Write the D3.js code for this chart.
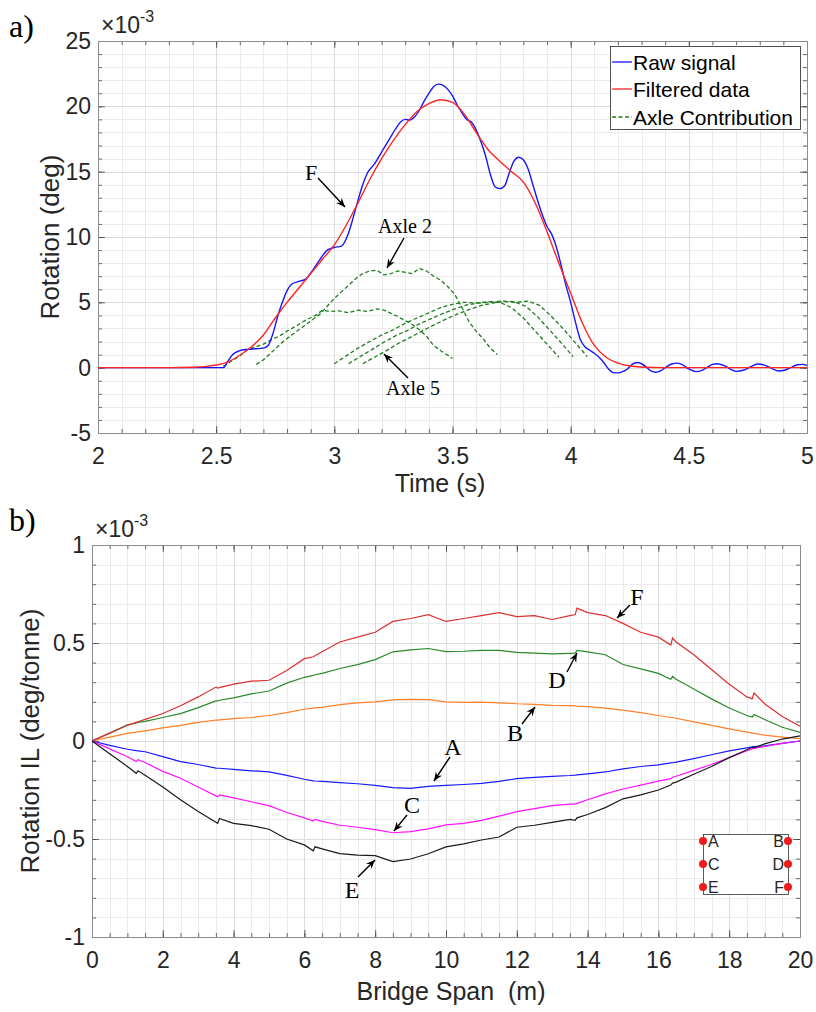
<!DOCTYPE html>
<html><head><meta charset="utf-8">
<script src="https://cdn.jsdelivr.net/npm/d3@7"></script>
<style>
body{margin:0;background:#fff;}
svg{display:block;}
</style></head><body>
<svg id="chart" width="816" height="1012"></svg>
<script>
// ---------------- Panel a data (Rotation x1e-3 deg vs Time s) ----------------
const timeTicks = [2, 2.5, 3, 3.5, 4, 4.5, 5];
const rotTicks = [-5, 0, 5, 10, 15, 20, 25];

const rawT = [2.0,2.5,2.53,2.55,2.57,2.6,2.63,2.67,2.7,2.72,2.74,2.76,2.78,2.8,2.82,2.85,2.88,2.91,2.94,2.97,3.0,3.03,3.06,3.08,3.1,3.12,3.14,3.17,3.2,3.23,3.26,3.28,3.3,3.32,3.34,3.36,3.38,3.4,3.42,3.44,3.46,3.48,3.5,3.52,3.54,3.56,3.58,3.6,3.62,3.64,3.66,3.68,3.7,3.72,3.74,3.76,3.78,3.8,3.82,3.84,3.86,3.88,3.9,3.92,3.94,3.96,3.98,4.0,4.02,4.04,4.06,4.08,4.1,4.12,4.14,4.16,4.18,4.2,4.22,4.24,4.26,4.28,4.3,4.32,4.34,4.36,4.38,4.4,4.43,4.45,4.47,4.5,4.53,4.55,4.58,4.6,4.62,4.65,4.68,4.7,4.73,4.76,4.79,4.82,4.85,4.88,4.9,4.93,4.96,4.98,5.0];
const rawV = [0,0,0,0.5,1.0,1.3,1.4,1.45,1.5,1.7,2.6,3.9,5.0,5.9,6.4,6.6,6.8,7.5,8.3,9.0,9.2,9.3,10.3,11.5,12.8,14.0,14.9,15.6,16.5,17.4,18.3,18.8,19.0,18.95,19.2,19.7,20.4,21.0,21.5,21.7,21.6,21.3,20.8,20.1,19.5,19.0,18.8,18.2,17.3,16.2,14.8,13.85,13.7,13.9,14.9,15.8,16.1,15.9,15.2,14.0,12.8,11.7,10.8,10.2,9.2,7.8,6.3,5.0,3.5,2.2,1.6,1.35,1.1,0.8,0.4,-0.1,-0.38,-0.4,-0.3,-0.1,0.25,0.4,0.3,0.05,-0.25,-0.35,-0.25,0.0,0.3,0.35,0.25,-0.1,-0.3,-0.25,0.05,0.25,0.3,0.15,-0.15,-0.28,-0.2,0.05,0.28,0.2,-0.05,-0.25,-0.22,0.0,0.22,0.25,0.18];

const filtT = [2.0,2.3,2.4,2.45,2.5,2.55,2.6,2.65,2.7,2.75,2.8,2.85,2.9,2.95,3.0,3.05,3.1,3.15,3.2,3.25,3.3,3.35,3.4,3.45,3.5,3.55,3.6,3.65,3.7,3.75,3.8,3.85,3.9,3.95,4.0,4.05,4.1,4.15,4.2,4.25,4.3,4.4,5.0];
const filtV = [0,0,0.03,0.08,0.2,0.45,0.95,1.6,2.5,3.8,5.0,6.1,7.2,8.3,9.4,10.9,12.6,14.4,16.0,17.4,18.6,19.6,20.2,20.5,20.3,19.4,18.0,16.7,15.8,15.0,14.2,12.6,10.4,8.0,5.7,3.4,1.7,0.8,0.35,0.13,0.05,0,0];

const axle1T = [2.53,2.56,2.60,2.63,2.66,2.70,2.73,2.77,2.80,2.84,2.88,2.92,2.95,2.98,3.02,3.06,3.10,3.14,3.18,3.21,3.24,3.27,3.30,3.33,3.36,3.39,3.42,3.45,3.48,3.50];
const axle1V = [0.1,0.45,0.9,1.35,1.55,1.8,2.1,2.45,2.8,3.2,3.65,4.0,4.4,4.3,4.35,4.2,4.4,4.3,4.5,4.4,4.15,3.9,3.6,3.3,2.9,2.4,1.7,1.3,0.95,0.7];
const axle2T = [2.67,2.70,2.73,2.76,2.79,2.82,2.85,2.88,2.91,2.94,2.97,3.00,3.03,3.06,3.09,3.12,3.15,3.18,3.21,3.24,3.27,3.30,3.33,3.36,3.39,3.42,3.45,3.48,3.51,3.54,3.57,3.60,3.63,3.66,3.69];
const axle2V = [0.25,0.6,1.1,1.6,2.1,2.5,2.9,3.3,3.7,4.1,4.7,5.3,5.8,6.3,6.8,7.2,7.4,7.45,7.1,7.2,7.4,7.3,7.2,7.6,7.4,7.0,6.7,6.2,5.6,4.6,3.5,2.8,2.2,1.5,1.0];
const axle3T = [3.00,3.05,3.10,3.15,3.20,3.25,3.30,3.35,3.40,3.45,3.50,3.55,3.60,3.65,3.70,3.75,3.80,3.85,3.90,3.95];
const axle3V = [0.3,0.9,1.5,2.0,2.5,2.9,3.4,3.8,4.2,4.6,4.85,5.0,4.95,5.05,5.0,4.6,3.8,2.8,1.8,0.8];
const axle4T = [3.06,3.11,3.16,3.21,3.26,3.31,3.36,3.41,3.46,3.51,3.56,3.61,3.66,3.71,3.76,3.81,3.86,3.91,3.96,4.01];
const axle4V = [0.3,0.85,1.4,1.95,2.45,2.85,3.35,3.75,4.15,4.5,4.8,4.95,5.0,5.1,5.05,4.7,3.9,2.9,1.9,0.85];
const axle5T = [3.12,3.17,3.22,3.27,3.32,3.37,3.42,3.47,3.52,3.57,3.62,3.67,3.72,3.77,3.82,3.87,3.92,3.97,4.02,4.07];
const axle5V = [0.3,0.8,1.3,1.85,2.3,2.8,3.25,3.7,4.1,4.45,4.75,4.95,5.05,5.0,5.1,4.75,3.9,2.95,1.9,0.85];

const legendLabels = ["Raw signal", "Filtered data", "Axle Contribution"];

// ---------------- Panel b data (Rotation IL x1e-3 deg/tonne vs span m) ----------------
const spanTicks = [0, 2, 4, 6, 8, 10, 12, 14, 16, 18, 20];
const ilTicks = [-1, -0.5, 0, 0.5, 1];
const span = [0,0.5,1,1.25,1.3,1.5,2,2.5,3,3.5,3.55,3.6,4,4.5,5,5.5,6,6.25,6.3,6.5,7,7.5,8,8.5,9,9.5,10,10.5,11,11.5,12,12.5,13,13.5,13.65,13.7,14,14.5,15,15.5,16,16.35,16.4,16.5,17,17.5,18,18.5,18.65,18.7,19,19.5,20];
const ilF = [0,0.04,0.08,0.095,0.098,0.11,0.14,0.18,0.225,0.275,0.27,0.272,0.29,0.305,0.31,0.36,0.42,0.43,0.435,0.455,0.505,0.53,0.555,0.61,0.625,0.645,0.61,0.625,0.64,0.655,0.635,0.64,0.62,0.64,0.645,0.678,0.655,0.64,0.6,0.555,0.53,0.49,0.525,0.505,0.44,0.365,0.29,0.225,0.215,0.245,0.19,0.125,0.075];
const ilD = [0,0.04,0.082,0.092,0.095,0.1,0.12,0.14,0.17,0.205,0.205,0.208,0.22,0.24,0.255,0.295,0.325,0.335,0.338,0.345,0.37,0.39,0.415,0.455,0.465,0.472,0.456,0.458,0.462,0.462,0.452,0.448,0.445,0.447,0.448,0.462,0.455,0.44,0.39,0.368,0.345,0.315,0.33,0.315,0.265,0.215,0.168,0.13,0.122,0.135,0.11,0.07,0.044];
const ilB = [0,0.02,0.039,0.045,0.047,0.052,0.067,0.08,0.095,0.107,0.107,0.108,0.114,0.12,0.13,0.145,0.162,0.168,0.169,0.172,0.186,0.195,0.2,0.21,0.212,0.211,0.2,0.197,0.198,0.195,0.19,0.187,0.182,0.18,0.179,0.178,0.175,0.168,0.158,0.145,0.13,0.12,0.12,0.116,0.098,0.08,0.062,0.045,0.04,0.039,0.03,0.02,0.012];
const ilA = [0,-0.022,-0.042,-0.049,-0.05,-0.055,-0.08,-0.105,-0.12,-0.138,-0.139,-0.139,-0.145,-0.152,-0.158,-0.175,-0.195,-0.203,-0.204,-0.206,-0.212,-0.218,-0.226,-0.238,-0.242,-0.232,-0.226,-0.222,-0.216,-0.206,-0.192,-0.186,-0.18,-0.176,-0.174,-0.173,-0.168,-0.158,-0.142,-0.13,-0.122,-0.112,-0.111,-0.108,-0.09,-0.07,-0.05,-0.035,-0.03,-0.029,-0.025,-0.012,0];
const ilC = [0,-0.04,-0.08,-0.105,-0.095,-0.11,-0.155,-0.19,-0.235,-0.28,-0.285,-0.275,-0.29,-0.31,-0.33,-0.365,-0.392,-0.408,-0.4,-0.41,-0.43,-0.44,-0.452,-0.468,-0.462,-0.448,-0.428,-0.42,-0.405,-0.383,-0.36,-0.345,-0.33,-0.322,-0.322,-0.318,-0.3,-0.27,-0.245,-0.225,-0.205,-0.192,-0.185,-0.18,-0.15,-0.12,-0.085,-0.05,-0.04,-0.038,-0.028,-0.012,0];
const ilE = [0,-0.065,-0.13,-0.165,-0.152,-0.175,-0.235,-0.3,-0.36,-0.415,-0.42,-0.395,-0.42,-0.432,-0.45,-0.5,-0.53,-0.56,-0.54,-0.55,-0.575,-0.582,-0.585,-0.615,-0.602,-0.575,-0.54,-0.525,-0.505,-0.49,-0.44,-0.43,-0.415,-0.4,-0.405,-0.392,-0.375,-0.34,-0.295,-0.275,-0.25,-0.225,-0.215,-0.21,-0.17,-0.13,-0.085,-0.045,-0.032,-0.035,-0.015,0.01,0.026];
const sensorLeft = ["A", "C", "E"];
const sensorRight = ["B", "D", "F"];

// ---------------- drawing ----------------
const svg = d3.select("#chart");
const SANS = "Arial, 'Liberation Sans', Helvetica, sans-serif";
const SERIF = "'Times New Roman', 'Liberation Serif', serif";
const TXT = "#262626";

svg.append("defs").append("marker")
  .attr("id", "ah").attr("markerUnits", "userSpaceOnUse")
  .attr("viewBox", "-10 -5 12 10").attr("refX", 0).attr("refY", 0)
  .attr("markerWidth", 12).attr("markerHeight", 10).attr("orient", "auto")
  .append("path").attr("d", "M0,0 L-9,-3.8 L-6,0 L-9,3.8 Z").attr("fill", "#000");

function seq(d0, d1, step) {
  const n = Math.round((d1 - d0) / step);
  return d3.range(n + 1).map(i => +(d0 + i * step).toFixed(6));
}

function frame(g, x, y, xMaj, xStep, yMaj, yStep, xPad, yPad) {
  const [x0, x1] = x.domain(), [y0, y1] = y.domain();
  const [px0, px1] = x.range(), [py0, py1] = y.range();
  const xMin = seq(x0, x1, xStep), yMin = seq(y0, y1, yStep);
  const cr = v => Math.round(v) + 0.5;
  const grid = g.append("g");
  grid.selectAll(".gx").data(xMin.filter(d => !xMaj.includes(d))).join("line")
    .attr("x1", d => cr(x(d))).attr("x2", d => cr(x(d))).attr("y1", py0).attr("y2", py1)
    .attr("stroke", "#ebebeb").attr("stroke-width", 1);
  grid.selectAll(".gy").data(yMin.filter(d => !yMaj.includes(d))).join("line")
    .attr("y1", d => cr(y(d))).attr("y2", d => cr(y(d))).attr("x1", px0).attr("x2", px1)
    .attr("stroke", "#ebebeb").attr("stroke-width", 1);
  grid.selectAll(".Gx").data(xMaj).join("line")
    .attr("x1", d => cr(x(d))).attr("x2", d => cr(x(d))).attr("y1", py0).attr("y2", py1)
    .attr("stroke", "#dcdcdc").attr("stroke-width", 1);
  grid.selectAll(".Gy").data(yMaj).join("line")
    .attr("y1", d => cr(y(d))).attr("y2", d => cr(y(d))).attr("x1", px0).attr("x2", px1)
    .attr("stroke", "#dcdcdc").attr("stroke-width", 1);

  const fmt = d => String(d);
  const style = sel => {
    sel.select(".domain").remove();
    sel.attr("font-family", SANS).attr("font-size", 23).attr("color", TXT);
    sel.selectAll("line").attr("stroke", "#444").attr("stroke-width", 0.8);
  };
  g.append("g").attr("transform", `translate(0,${py0})`).call(d3.axisBottom(x).tickValues(xMin).tickSize(-4).tickFormat("")).call(style);
  g.append("g").attr("transform", `translate(0,${py0})`).call(d3.axisBottom(x).tickValues(xMaj).tickSize(-7).tickPadding(xPad).tickFormat(fmt)).call(style);
  g.append("g").attr("transform", `translate(0,${py1})`).call(d3.axisTop(x).tickValues(xMin).tickSize(-4).tickFormat("")).call(style);
  g.append("g").attr("transform", `translate(0,${py1})`).call(d3.axisTop(x).tickValues(xMaj).tickSize(-7).tickFormat("")).call(style);
  g.append("g").attr("transform", `translate(${px0},0)`).call(d3.axisLeft(y).tickValues(yMin).tickSize(-4).tickFormat("")).call(style);
  g.append("g").attr("transform", `translate(${px0},0)`).call(d3.axisLeft(y).tickValues(yMaj).tickSize(-7).tickPadding(yPad).tickFormat(fmt)).call(style);
  g.append("g").attr("transform", `translate(${px1},0)`).call(d3.axisRight(y).tickValues(yMin).tickSize(-4).tickFormat("")).call(style);
  g.append("g").attr("transform", `translate(${px1},0)`).call(d3.axisRight(y).tickValues(yMaj).tickSize(-7).tickFormat("")).call(style);
  g.append("rect").attr("x", px0 + 0.5).attr("y", py1 + 0.5).attr("width", px1 - px0).attr("height", py0 - py1)
    .attr("fill", "none").attr("stroke", "#8c8c8c").attr("stroke-width", 1);
}

function exponent(x, y) {
  const t = svg.append("text").attr("x", x).attr("y", y).attr("font-family", SANS).attr("font-size", 23).attr("fill", TXT);
  t.append("tspan").text("×10");
  t.append("tspan").attr("dy", -11).attr("font-size", 16).text("-3");
}

function arrow(x1, y1, x2, y2) {
  svg.append("line").attr("x1", x1).attr("y1", y1).attr("x2", x2).attr("y2", y2)
    .attr("stroke", "#000").attr("stroke-width", 1.4).attr("marker-end", "url(#ah)");
}
function note(txt, cx, by, size) {
  svg.append("text").attr("x", cx).attr("y", by).attr("text-anchor", "middle")
    .attr("font-family", SERIF).attr("font-size", size).attr("fill", "#000").text(txt);
}

// ---------- Panel a ----------
const xA = d3.scaleLinear([2, 5], [98, 807]);
const yA = d3.scaleLinear([-5, 25], [433, 41]);
const gA = svg.append("g");
frame(gA, xA, yA, timeTicks, 0.1, rotTicks, 1, 15, 7);

svg.append("clipPath").attr("id", "clipA").append("rect")
  .attr("x", 98).attr("y", 41).attr("width", 709).attr("height", 392);
const plotA = svg.append("g").attr("clip-path", "url(#clipA)");
const lineA = d3.line().x(d => xA(d[0])).y(d => yA(d[1]));
const axles = [[axle1T, axle1V], [axle2T, axle2V], [axle3T, axle3V], [axle4T, axle4V], [axle5T, axle5V]];
axles.forEach(([t, v]) => {
  plotA.append("path").datum(d3.zip(t, v)).attr("d", lineA.curve(d3.curveLinear))
    .attr("fill", "none").attr("stroke", "#1e7d1e").attr("stroke-width", 1.3).attr("stroke-dasharray", "4,2.5");
});
plotA.append("path").datum(d3.zip(rawT, rawV)).attr("d", lineA.curve(d3.curveMonotoneX))
  .attr("fill", "none").attr("stroke", "#1515ff").attr("stroke-width", 1.4);
plotA.append("path").datum(d3.zip(filtT, filtV)).attr("d", lineA.curve(d3.curveMonotoneX))
  .attr("fill", "none").attr("stroke", "#ff2424").attr("stroke-width", 1.4);

exponent(101, 33);
svg.append("text").attr("x", 440).attr("y", 492).attr("text-anchor", "middle")
  .attr("font-family", SANS).attr("font-size", 25).attr("fill", TXT).text("Time (s)");
svg.append("text").attr("transform", "translate(59,237) rotate(-90)").attr("text-anchor", "middle")
  .attr("font-family", SANS).attr("font-size", 26).attr("fill", TXT).text("Rotation (deg)");
svg.append("text").attr("x", 9).attr("y", 37).attr("font-family", SERIF).attr("font-size", 32).attr("fill", "#000").text("a)");

// legend
const leg = svg.append("g");
leg.append("rect").attr("x", 610.5).attr("y", 46.5).attr("width", 190).attr("height", 83)
  .attr("fill", "#fff").attr("stroke", "#262626").attr("stroke-width", 0.8);
const legStyle = [["#1515ff", null], ["#ff2424", null], ["#1e7d1e", "4,2.5"]];
const legY = [62, 89, 117];
legendLabels.forEach((lab, i) => {
  leg.append("line").attr("x1", 612).attr("x2", 632).attr("y1", legY[i]).attr("y2", legY[i])
    .attr("stroke", legStyle[i][0]).attr("stroke-width", 1.3).attr("stroke-dasharray", legStyle[i][1]);
  leg.append("text").attr("x", 633).attr("y", legY[i] + 7.5).attr("font-family", SANS).attr("font-size", 21)
    .attr("fill", "#000").text(lab);
});

note("F", 311, 180, 22); arrow(318, 178, 345, 207);
note("Axle 2", 405, 233, 20); arrow(404, 238, 387, 268);
note("Axle 5", 413, 395, 20); arrow(408, 378, 384, 354);

// ---------- Panel b ----------
const xB = d3.scaleLinear([0, 20], [92, 800]);
const yB = d3.scaleLinear([-1, 1], [937, 545]);
const gB = svg.append("g");
frame(gB, xB, yB, spanTicks, 0.5, ilTicks, 0.1, 15, 7);

svg.append("clipPath").attr("id", "clipB").append("rect")
  .attr("x", 92).attr("y", 545).attr("width", 710).attr("height", 392);
const plotB = svg.append("g").attr("clip-path", "url(#clipB)");
const lineB = d3.line().x(d => xB(d[0])).y(d => yB(d[1]));
const seriesB = [[ilB, "#ff7f27"], [ilD, "#2a8a2a"], [ilF, "#dc2f2f"], [ilA, "#1a1aff"], [ilC, "#ff10ff"], [ilE, "#1a1a1a"]];
seriesB.forEach(([v, c]) => {
  plotB.append("path").datum(d3.zip(span, v)).attr("d", lineB)
    .attr("fill", "none").attr("stroke", c).attr("stroke-width", 1.2);
});

exponent(95, 537);
svg.append("text").attr("x", 451).attr("y", 1000).attr("text-anchor", "middle")
  .attr("font-family", SANS).attr("font-size", 25).attr("fill", TXT).text("Bridge Span\u00a0 (m)");
svg.append("text").attr("transform", "translate(39,741) rotate(-90)").attr("text-anchor", "middle")
  .attr("font-family", SANS).attr("font-size", 26).attr("fill", TXT).text("Rotation IL (deg/tonne)");
svg.append("text").attr("x", 9).attr("y", 531).attr("font-family", SERIF).attr("font-size", 32).attr("fill", "#000").text("b)");

note("F", 637, 605, 24); arrow(630, 605, 617, 618);
note("D", 557, 688, 24); arrow(567, 672, 577, 653);
note("B", 515, 741, 24); arrow(522, 724, 535, 707);
note("A", 453, 755, 24); arrow(450, 757, 434, 781);
note("C", 412, 813, 24); arrow(407, 815, 394, 831);
note("E", 352, 898, 24); arrow(358, 877, 375, 860);

// inset sensor layout
const ins = svg.append("g");
ins.append("rect").attr("x", 703.5).attr("y", 834.5).attr("width", 85).attr("height", 60)
  .attr("fill", "#fff").attr("stroke", "#333").attr("stroke-width", 0.8);
const insY = [841, 864, 887];
sensorLeft.forEach((s, i) => {
  ins.append("circle").attr("cx", 703).attr("cy", insY[i]).attr("r", 4).attr("fill", "#ee1c1c");
  ins.append("text").attr("x", 708).attr("y", insY[i] + 6).attr("font-family", SANS).attr("font-size", 16).attr("fill", TXT).text(s);
});
sensorRight.forEach((s, i) => {
  ins.append("circle").attr("cx", 788).attr("cy", insY[i]).attr("r", 4).attr("fill", "#ee1c1c");
  ins.append("text").attr("x", 784).attr("y", insY[i] + 6).attr("text-anchor", "end").attr("font-family", SANS).attr("font-size", 16).attr("fill", TXT).text(s);
});
</script>
</body></html>
